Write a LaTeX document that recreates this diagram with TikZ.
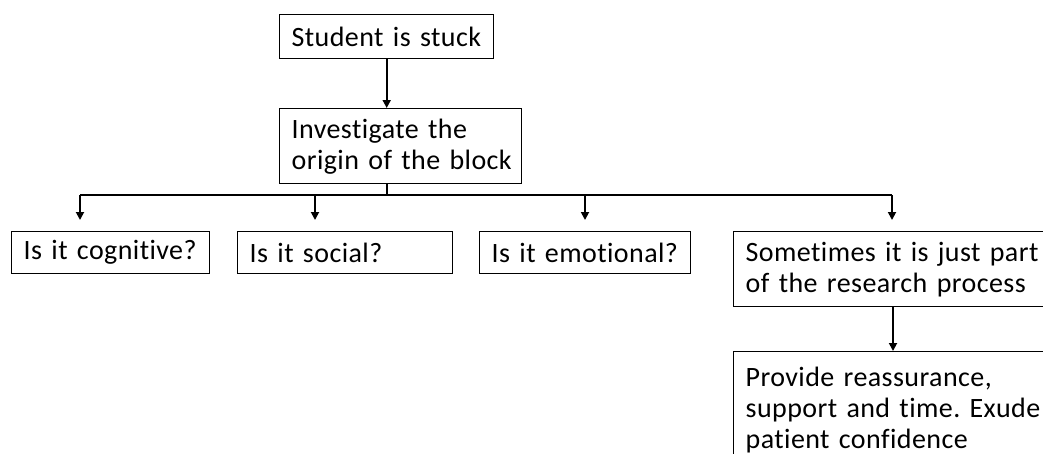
\documentclass[tikz,border=0pt]{standalone}
\usepackage{fontspec}
\setmainfont[Ligatures=NoCommon, LetterSpace=1.5]{Carlito}
\usetikzlibrary{arrows.meta,calc}

\tikzset{
  box/.style={draw, line width=1.4pt, anchor=north west, inner xsep=12pt,
    inner ysep=0pt, align=left, font=\frenchspacing\fontsize{28pt}{31pt}\selectfont},
  link/.style={line width=1.8pt},
  arr/.style={link, -{Triangle[length=8pt,width=8pt]}},
}
% one unbreakable line of box text
\newcommand\boxline[1]{\mbox{#1}}

\begin{document}
\begin{tikzpicture}[x=1pt,y=-1pt]
  \useasboundingbox (0,0) rectangle (1043,453);
  \clip (0,0) rectangle (1043,453);
  \fill[white] (0,0) rectangle (1043,453);

  % top of the tree
  \node[box, text width=190pt, minimum height=44pt] (stuck) at (279,14)
    {\boxline{Student is stuck}};
  \node[box, text width=218pt, minimum height=75pt] (inv) at (279,108)
    {\boxline{Investigate the}\\\boxline{origin of the block}};

  % the four possible origins
  \node[box, text width=174pt, minimum height=42pt] (cog) at (11,231)
    {\boxline{Is it cognitive?}};
  \node[box, text width=191pt, minimum height=42pt] (soc) at (237,231)
    {\boxline{Is it social?}};
  \node[box, text width=187pt, minimum height=42pt] (emo) at (479,231)
    {\boxline{Is it emotional?}};
  \node[box, text width=316pt, minimum height=75pt] (some) at (733,231)
    {\boxline{Sometimes it is just part}\\\boxline{of the research process}};

  % what to do about it
  \node[box, text width=316pt, inner ysep=15pt] (prov) at (733,351)
    {\boxline{Provide reassurance,}\\\boxline{support and time. Exude}\\\boxline{patient confidence}};

  % branching bus
  \coordinate (bus) at (387,195);
  \coordinate (b1) at (80,195);
  \coordinate (b2) at (315,195);
  \coordinate (b3) at (585,195);
  \coordinate (b4) at (892,195);
  \coordinate (down) at (893,306);

  \draw[arr] (stuck) -- (stuck |- inv.north);
  \draw[link] (bus |- inv.south) -- (bus);
  \draw[link] (b1) -- (b4);
  \draw[arr, shorten >=11pt] (b1) -- (b1 |- cog.north);
  \draw[arr, shorten >=11pt] (b2) -- (b2 |- soc.north);
  \draw[arr, shorten >=11pt] (b3) -- (b3 |- emo.north);
  \draw[arr, shorten >=11pt] (b4) -- (b4 |- some.north);
  \draw[arr] (down |- some.south) -- (down |- prov.north);
\end{tikzpicture}
\end{document}
